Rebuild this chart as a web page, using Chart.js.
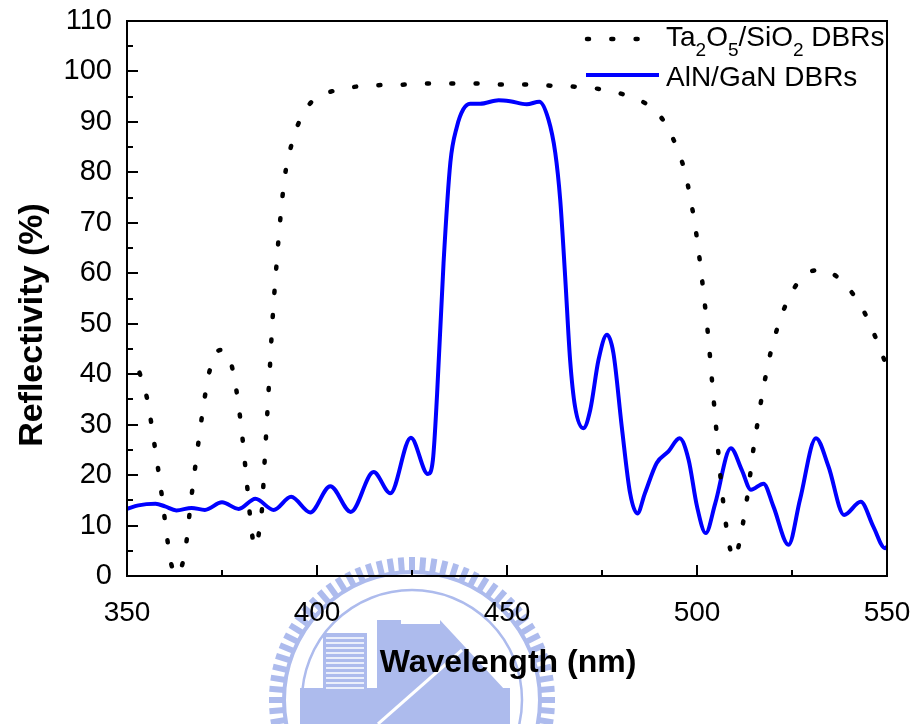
<!DOCTYPE html>
<html>
<head>
<meta charset="utf-8">
<script src="https://cdn.jsdelivr.net/npm/chart.js@4.4.0/dist/chart.umd.min.js"></script>
<style>
  html, body { margin: 0; padding: 0; background: #fff; }
</style>
</head>
<body>
<canvas id="refl-chart" width="916" height="724"></canvas>
<script>
// AlN/GaN DBRs (solid blue)
var alganWl = [350, 353, 357.5, 360, 363, 367, 370.5, 375, 379.4, 383.8, 388.6, 393.2, 398.2, 403.5, 408.9,
  414.9, 419.3, 424.7, 429.2, 430.5, 431.6, 433.3, 435.1, 436.8, 438.5, 440.3, 442.9, 447.8, 450.8, 455.2,
  458.5, 460.9, 462.7, 464.0, 465.3, 466.6, 467.9, 470.1, 471.9, 474.1, 476.3, 478.0, 480.2, 482.4, 484.3,
  486.3, 489.4, 492.5, 495.4, 497.8, 500.0, 502.3, 504.8, 508.9, 511.8, 514.2, 517.5, 520.1, 524.1, 527.1,
  531.3, 534.6, 538.7, 543.1, 546.4, 549.5, 550];
var alganR = [13.3, 14.0, 14.3, 13.8, 13.0, 13.5, 13.1, 14.6, 13.3, 15.3, 13.1, 15.7, 12.6, 17.8, 12.7,
  20.6, 16.4, 27.4, 20.2, 23, 36, 62, 82, 89, 92.5, 93.6, 93.6, 94.3, 94.1, 93.5,
  94.0, 90.5, 83.9, 74.6, 59.4, 42.9, 33.6, 29.3, 32.9, 42.9, 47.8, 44.2, 29.6, 16.4, 12.4,
  16.4, 22.4, 24.7, 27.3, 23.0, 13.8, 8.5, 14.4, 25.3, 21.0, 17.1, 18.3, 13.8, 6.2, 15.1,
  27.3, 21.7, 12.1, 14.7, 9.8, 5.5, 5.8];

// Ta2O5/SiO2 DBRs (dotted black)
var tasiWl = [353.3, 355.3, 357.3, 359.1, 360.7, 361.7, 363.2, 365.4, 366.8, 368.4, 370.1, 371.4, 372.7,
  374.6, 376.5, 378.2, 380.0, 381.3, 382.5, 383.3, 384.0, 384.7, 385.5, 386.2, 386.9, 387.6, 388.3, 389.2,
  390.2, 391.5, 392.7, 394.5, 397.8, 401, 404.1, 410.4, 416.8, 423.1, 429.4, 435.7, 442.0, 448.4, 454.8,
  460.9, 467.3, 473.6, 480.0, 486.4, 489.5, 491.9, 494.9, 496.9, 498.2, 499.3, 500.2, 501.7, 503.0, 504.1,
  505.2, 506.3, 507.0, 507.8, 509.0, 509.8, 511.3, 512.4, 513.4, 515.0, 516.0, 517.0, 518.2, 519.5, 521.3,
  523.5, 527.1, 530.5, 533.7, 536.5, 539.6, 543.8, 546.7, 549.1, 550];
var tasiR = [40.3, 35.1, 25.7, 16.3, 6.8, 2.2, 0.2, 5.5, 14.7, 24.2, 33.6, 39.5, 43.1,
  44.8, 44.0, 39.4, 30.0, 20.4, 11.0, 6.5, 5.8, 8.5, 13.1, 22.5, 31.9, 41.3, 50.8, 60.3,
  69.6, 79.0, 83.7, 88.5, 93.3, 95.2, 96.1, 97.0, 97.3, 97.4, 97.6, 97.6, 97.6, 97.4, 97.4,
  97.2, 97.0, 96.6, 95.6, 93.7, 91.8, 89.4, 84.5, 79.9, 75.1, 70.4, 65.7, 56.3, 47.0, 37.4,
  28.0, 18.7, 14.0, 9.3, 4.5, 3.5, 7.1, 11.8, 16.6, 26.0, 30.6, 35.3, 40.1, 44.7, 49.5,
  54.0, 58.7, 60.5, 60.7, 59.5, 57.3, 52.6, 47.8, 43.2, 41.5];

var seriesNames = ['Ta2O5/SiO2 DBRs', 'AlN/GaN DBRs'];

function toPoints(xs, ys) {
  return xs.map(function (x, i) { return { x: x, y: ys[i] }; });
}

var tickFont = '"Liberation Sans", Arial, sans-serif';
var dotDash = [2, 22.3];

// faint logo watermark behind everything
var watermark = {
  id: 'watermark',
  beforeDraw: function (chart) {
    var ctx = chart.ctx;
    var cx = 412, cy = 700;
    ctx.save();
    ctx.fillStyle = '#adbbed';
    ctx.strokeStyle = '#adbbed';
    // gear teeth
    for (var t = 0; t < 80; t++) {
      var ang = t * Math.PI * 2 / 80;
      ctx.save();
      ctx.translate(cx, cy);
      ctx.rotate(ang);
      ctx.fillRect(-3, -143, 6, 15);
      ctx.restore();
    }
    ctx.beginPath();
    ctx.arc(cx, cy, 128, 0, Math.PI * 2);
    ctx.lineWidth = 4;
    ctx.stroke();
    ctx.beginPath();
    ctx.arc(cx, cy, 110, 0, Math.PI * 2);
    ctx.lineWidth = 2.5;
    ctx.stroke();
    // buildings
    ctx.fillRect(323, 633, 44, 91);
    ctx.fillRect(377, 620, 24, 104);
    ctx.fillRect(401, 624, 40, 100);
    ctx.beginPath();
    ctx.moveTo(440, 620);
    ctx.lineTo(505, 690);
    ctx.lineTo(505, 724);
    ctx.lineTo(440, 724);
    ctx.closePath();
    ctx.fill();
    ctx.fillRect(300, 688, 210, 36);
    ctx.strokeStyle = '#ffffff';
    ctx.lineWidth = 1.5;
    for (var s = 638; s < 690; s += 5) {
      ctx.beginPath();
      ctx.moveTo(326, s);
      ctx.lineTo(364, s);
      ctx.stroke();
    }
    ctx.lineWidth = 3;
    ctx.beginPath();
    ctx.moveTo(378, 724);
    ctx.lineTo(462, 650);
    ctx.stroke();
    ctx.restore();
  }
};

// frame, inward ticks, axis titles and legend
var decorations = {
  id: 'decorations',
  afterDraw: function (chart) {
    var ctx = chart.ctx, a = chart.chartArea;
    var xs = chart.scales.x, ys = chart.scales.y;
    ctx.save();
    ctx.strokeStyle = '#000';
    ctx.lineWidth = 2;
    ctx.strokeRect(a.left, a.top, a.right - a.left, a.bottom - a.top);
    ctx.beginPath();
    for (var v = ys.min; v <= ys.max; v += 5) {
      var py = Math.round(ys.getPixelForValue(v));
      var len = (v % 10 === 0) ? 11 : 6;
      ctx.moveTo(a.left, py);
      ctx.lineTo(a.left + len, py);
    }
    for (var w = xs.min; w <= xs.max; w += 25) {
      var px = Math.round(xs.getPixelForValue(w));
      var l2 = (w % 50 === 0) ? 11 : 6;
      ctx.moveTo(px, a.bottom);
      ctx.lineTo(px, a.bottom - l2);
    }
    ctx.stroke();

    // axis titles
    ctx.fillStyle = '#000';
    ctx.font = 'bold 32px ' + tickFont;
    ctx.textAlign = 'center';
    ctx.textBaseline = 'alphabetic';
    ctx.fillText('Wavelength (nm)', 508, 672);
    ctx.save();
    ctx.translate(42, 325);
    ctx.rotate(-Math.PI / 2);
    ctx.font = 'bold 34px ' + tickFont;
    ctx.fillText('Reflectivity (%)', 0, 0);
    ctx.restore();

    // legend
    ctx.lineCap = 'round';
    ctx.lineWidth = 4.5;
    ctx.setLineDash(dotDash);
    ctx.beginPath();
    ctx.moveTo(587, 39);
    ctx.lineTo(641, 39);
    ctx.stroke();
    ctx.setLineDash([]);
    ctx.lineCap = 'butt';
    ctx.strokeStyle = '#0000ff';
    ctx.lineWidth = 4;
    ctx.beginPath();
    ctx.moveTo(586, 75);
    ctx.lineTo(659, 75);
    ctx.stroke();

    ctx.textAlign = 'left';
    var parts = [['Ta', 0], ['2', 1], ['O', 0], ['5', 1], ['/SiO', 0], ['2', 1], [' DBRs', 0]];
    var x = 666;
    parts.forEach(function (p) {
      ctx.font = (p[1] ? '19px ' : '28px ') + tickFont;
      ctx.fillText(p[0], x, p[1] ? 56 : 46);
      x += ctx.measureText(p[0]).width;
    });
    ctx.font = '28px ' + tickFont;
    ctx.fillText(seriesNames[1], 666, 86);
    ctx.restore();
  }
};

var ctx = document.getElementById('refl-chart').getContext('2d');
var reflChart = new Chart(ctx, {
  type: 'scatter',
  data: {
    datasets: [{
      label: seriesNames[0],
      data: toPoints(tasiWl, tasiR),
      showLine: true,
      borderColor: '#000000',
      borderWidth: 4.5,
      borderDash: dotDash,
      borderCapStyle: 'round',
      pointRadius: 0,
      cubicInterpolationMode: 'monotone'
    }, {
      label: seriesNames[1],
      data: toPoints(alganWl, alganR),
      showLine: true,
      borderColor: '#0000ff',
      borderWidth: 4,
      borderJoinStyle: 'round',
      pointRadius: 0,
      cubicInterpolationMode: 'monotone'
    }]
  },
  options: {
    responsive: false,
    animation: false,
    layout: { padding: { left: 0, top: 21, right: 29, bottom: 0 } },
    plugins: {
      legend: { display: false },
      tooltip: { enabled: false }
    },
    scales: {
      x: {
        type: 'linear',
        min: 350,
        max: 550,
        grid: { drawOnChartArea: false, drawTicks: false },
        border: { color: '#000', width: 2 },
        ticks: {
          stepSize: 50,
          autoSkip: false,
          maxRotation: 0,
          padding: 20,
          color: '#000',
          font: { family: tickFont, size: 28 }
        },
        afterFit: function (scale) {
          scale.height = 148;
          scale.paddingLeft = 0;
          scale.paddingRight = 0;
        }
      },
      y: {
        min: 0,
        max: 110,
        grid: { drawOnChartArea: false, drawTicks: false },
        border: { color: '#000', width: 2 },
        ticks: {
          stepSize: 10,
          padding: 15,
          color: '#000',
          font: { family: tickFont, size: 29 }
        },
        afterFit: function (scale) {
          scale.width = 127;
          scale.paddingTop = 0;
          scale.paddingBottom = 0;
        }
      }
    }
  },
  plugins: [watermark, decorations]
});
</script>
</body>
</html>
